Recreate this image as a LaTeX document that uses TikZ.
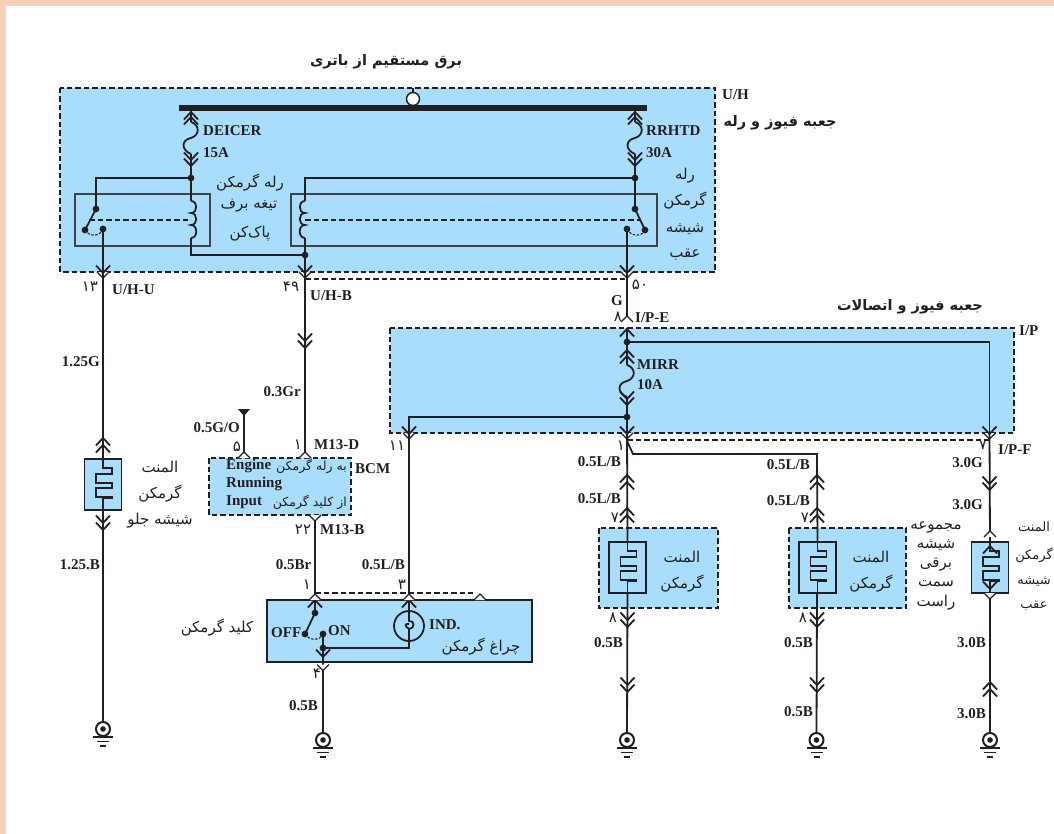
\documentclass[tikz,border=0pt]{standalone}
\usepackage{fontspec}
\setmainfont{Liberation Serif}
\newfontfamily\farsifont[Script=Arabic]{DejaVu Sans}
\TeXXeTstate=1
\newcommand\fa[1]{\farsifont\beginR #1\endR}
\newcommand\nm[1]{\farsifont #1}
\definecolor{ink}{HTML}{231F20}
\definecolor{panel}{HTML}{A8DEFB}
\definecolor{peach}{HTML}{F8D0B5}
\tikzset{
  wire/.style={draw=ink,line width=1.8pt,line join=miter},
  dashln/.style={draw=ink,line width=1.5pt,dash pattern=on 5.5pt off 3pt},
  lab/.style={inner sep=0pt,text=ink,font=\fontsize{15}{17}\selectfont\bfseries},
  far/.style={inner sep=0pt,text=ink,font=\fontsize{15}{17}\selectfont,align=center},
  fars/.style={inner sep=0pt,text=ink,font=\fontsize{13}{15}\selectfont,align=center},
  farh/.style={inner sep=0pt,text=ink,font=\fontsize{14.5}{17}\selectfont\bfseries,align=center},
  num/.style={inner sep=0pt,text=ink,font=\fontsize{15}{16}\selectfont},
  chevD/.pic={\draw[wire] (-7,-7.5)--(0,0)--(7,-7.5);},
  chevU/.pic={\draw[wire] (-7,7.5)--(0,0)--(7,7.5);},
  portD/.pic={\filldraw[wire,fill=white,line width=1.3pt] (-6,0)--(0,6)--(6,0);},
  portU/.pic={\filldraw[wire,fill=white,line width=1.3pt] (-6,0)--(0,-6)--(6,0);},
  fuse/.pic={
    \draw[wire] (0,0) .. controls (9,3) and (9,13) .. (0,16)
      .. controls (-10,18) and (-10,28) .. (0,32);},
  coilR/.pic={
    \draw[wire] (0,0) .. controls (7,0) and (7,12) .. (0,12)
      .. controls (7,12) and (7,24) .. (0,24) .. controls (7,24) and (7,37) .. (0,37);},
  coilL/.pic={
    \draw[wire] (0,0) .. controls (-7,0) and (-7,12) .. (0,12)
      .. controls (-7,12) and (-7,24) .. (0,24) .. controls (-7,24) and (-7,37) .. (0,37);},
  heater/.pic={
    \draw[ink,line width=1.9pt,fill=panel] (-18.5,0) rectangle (18.5,51);
    \draw[wire] (0,-1)--(0,9)--(9,9)--(9,15)--(-7,15)--(-7,24)--(9,24)--(9,29)--(-7,29)--(-7,38)--(9,38)--(9,39)--(0,39)--(0,52);},
  ground/.pic={
    \draw[ink,line width=2pt,fill=white] (0,-11) circle[radius=7];
    \fill[ink] (0,-11) circle[radius=2.8];
    \draw[ink,line width=1.8pt] (-10,-3)--(10,-3);
    \draw[ink,line width=1.8pt] (-6,1.5)--(6,1.5);
    \draw[ink,line width=1.8pt] (-3,6)--(3,6);},
}
\newcommand\jdot[1]{\fill[ink] (#1) circle[radius=3.4];}
\begin{document}
\begin{tikzpicture}[x=1pt,y=-1pt]
\useasboundingbox (0,0) rectangle (1054,834);
\fill[peach] (0,0) rectangle (1054,6);
\fill[peach] (0,0) rectangle (6,834);

% ---- coordinates
\coordinate (busL) at (179,108); \coordinate (busR) at (647,108);
\coordinate (busC) at (413,99);  \coordinate (uhTopC) at (413,88);
\coordinate (fLt) at (191,111);  \coordinate (fLa) at (191,122); \coordinate (fLb) at (191,154);
\coordinate (jL) at (191,178);   \coordinate (cLa) at (191,201); \coordinate (cLb) at (191,238);
\coordinate (jB) at (305,255);   \coordinate (cB) at (191,255);
\coordinate (swLin) at (96,178); \coordinate (swLa) at (96,209); \coordinate (swLb) at (85,230); \coordinate (swLc) at (103,229);
\coordinate (pA) at (103,273);   \coordinate (pB) at (305,273);  \coordinate (pC) at (627,273);
\coordinate (fRt) at (635,111);  \coordinate (fRa) at (635,122); \coordinate (fRb) at (635,154);
\coordinate (jR) at (635,178);   \coordinate (jRl) at (305,178);
\coordinate (cRa) at (305,201);  \coordinate (cRb) at (305,238);
\coordinate (swRa) at (635,209); \coordinate (swRb) at (645,230); \coordinate (swRc) at (627,229);
\coordinate (dLa) at (89,220);   \coordinate (dLb) at (191,220);
\coordinate (dRa) at (305,220);  \coordinate (dRb) at (640,220);
\coordinate (gA) at (103,740);   \coordinate (gB) at (323,751);  \coordinate (gC) at (627,751);
\coordinate (gD) at (816.5,751); \coordinate (gE) at (990,751);
\coordinate (hA) at (103,459);   \coordinate (hC) at (627.5,542); \coordinate (hD) at (817.5,542); \coordinate (hE) at (990,542);
\coordinate (bcmT) at (305,458); \coordinate (bcmG) at (244,458); \coordinate (bcmB) at (315,515);
\coordinate (gTop) at (244,412);
\coordinate (swT) at (315,600);  \coordinate (swA) at (315,613); \coordinate (swB) at (305,634); \coordinate (swC) at (323,634);
\coordinate (swJ) at (323,648);  \coordinate (lampB) at (409,648); \coordinate (lampT) at (409,600);
\coordinate (ipT) at (627,322);  \coordinate (ipJ1) at (627,342); \coordinate (ipJ2) at (627,417);
\coordinate (ipCr) at (989.5,342); \coordinate (ipRb) at (989.5,434);
\coordinate (ipLt) at (409,417); \coordinate (ipLb) at (409,434); \coordinate (ipMb) at (627,434);
\coordinate (fIa) at (627,365);  \coordinate (fIb) at (627,397);
\coordinate (brA) at (627,441);  \coordinate (brB) at (633,454); \coordinate (brC) at (817,454);

% ---- panels
\filldraw[fill=panel,dashln] (60,88) rectangle (715,272);
\filldraw[fill=panel,dashln] (390,328) rectangle (1014,433);
\filldraw[fill=panel,dashln] (209,458) rectangle (351,515);
\filldraw[fill=panel,dashln] (599,528) rectangle (718,608);
\filldraw[fill=panel,dashln] (789,528) rectangle (906,608);
\draw[ink,line width=2pt,fill=panel] (267,600) rectangle (532,662);

% ---- relay boxes
\draw[ink!85,line width=1.5pt] (75,194) rectangle (210,246);
\draw[ink!85,line width=1.5pt] (291,194) rectangle (657,246);

% ---- bus
\draw[ink,line width=6pt] (busL)--(busR);
\draw[wire] (uhTopC)--(busC);
\draw[ink,line width=1.5pt,fill=white] (busC) circle[radius=6.5];

% ---- left relay
\draw[wire] (fLt)--(fLa); \pic at (fLa) {fuse}; \draw[wire] (fLb)--(jL);
\pic at (191,112) {chevU}; \pic at (191,117) {chevU};
\pic at (191,160) {chevD}; \pic at (191,166) {chevD};
\draw[wire] (jL)--(cLa); \pic at (cLa) {coilR}; \draw[wire] (cLb)--(cB)--(jB);
\draw[wire] (jL)--(swLin)--(swLa)--(swLb);
\draw[wire] (swLc)--(pA);
\draw[dashln,line width=1.1pt,dash pattern=on 2.5pt off 1.5pt] (swLb) .. controls (89,237) and (100,237) .. (swLc);
\draw[dashln] (dLa)--(dLb);
\jdot{jL}\jdot{swLa}\jdot{swLb}\jdot{swLc}\jdot{jB}

% ---- right relay
\draw[wire] (fRt)--(fRa); \pic at (fRa) {fuse}; \draw[wire] (fRb)--(jR);
\pic at (635,112) {chevU}; \pic at (635,117) {chevU};
\pic at (635,160) {chevD}; \pic at (635,166) {chevD};
\draw[wire] (jR)--(swRa)--(swRb);
\draw[wire] (jR)--(jRl)--(cRa); \pic at (cRa) {coilL}; \draw[wire] (cRb)--(jB);
\draw[wire] (swRc)--(pC);
\draw[dashln,line width=1.1pt,dash pattern=on 2.5pt off 1.5pt] (swRc) .. controls (631,237) and (642,237) .. (swRb);
\draw[dashln] (dRa)--(dRb);
\jdot{jR}\jdot{swRa}\jdot{swRb}\jdot{swRc}

% ---- ports below U/H
\draw[wire] (jB)--(pB);
\pic at (103,272) {portD}; \pic at (305,272) {portD}; \pic at (627,272) {portD};
\pic at (pA) {chevD}; \pic at (pB) {chevD}; \pic at (pC) {chevD};
\draw[dashln] (pB |- 0,279)--(pC |- 0,279);

% ---- front element column
\draw[wire] (pA)--(hA); \draw[wire] (103,510)--(gA |- 0,722);
\pic at (103,438) {chevU}; \pic at (103,445) {chevU};
\pic at (hA) {heater};
\pic at (103,523) {chevD}; \pic at (103,530) {chevD};
\pic at (gA) {ground};

% ---- 49 wire to BCM
\draw[wire] (pB)--(bcmT);
\pic at (305,341) {chevD}; \pic at (305,348) {chevD};
\pic at (bcmT) {portU};
\draw[wire] (gTop)--(bcmG); \pic at (bcmG) {portU};
\fill[ink] (238,409)--(250,409)--(244,416)--cycle;

% ---- BCM to switch
\draw[wire] (bcmB)--(swT);
\pic at (bcmB) {portD};
\pic at (315,600) {chevU};
\pic at (swT) {portU};
\draw[dashln] (315,593)--(473,593);
\pic at (480,600) {portU};

% ---- switch
\draw[wire] (swT)--(swA)--(swB);
\draw[dashln,line width=1.1pt,dash pattern=on 2.5pt off 1.5pt] (swB) .. controls (309,641) and (320,641) .. (swC);
\draw[wire] (swC)--(swJ)--(gB |- 0,733);
\draw[wire] (swJ)--(lampB)--(lampT);
\draw[wire,fill=panel] (409,626) circle[radius=15];
\draw[wire] (409,611)--(409,621) .. controls (415,620) and (415,629) .. (409,629) .. controls (404,626) and (405,623) .. (409,624);
\draw[wire] (409,629)--(409,648);
\jdot{swA}\jdot{swB}\jdot{swC}\jdot{swJ}
\pic at (323,657) {chevD}; \pic at (323,664.5) {portD};
\pic at (gB) {ground};

% ---- I/P column
\draw[wire] (pC)--(ipT);
\pic at (ipT) {portU}; \pic at (627,329) {chevU};
\draw[wire] (627,328)--(ipJ1)--(fIa); \pic at (fIa) {fuse}; \draw[wire] (fIb)--(ipJ2)--(ipMb);
\pic at (627,350) {chevU}; \pic at (627,356) {chevU};
\pic at (627,399) {chevD}; \pic at (627,405) {chevD};
\draw[wire] (ipJ1)--(ipCr)--(ipRb);
\draw[wire] (ipJ2)--(ipLt)--(ipLb);
\jdot{ipJ1}\jdot{ipJ2}
\pic at (409,433) {portD}; \pic at (627,433) {portD}; \pic at (989.5,433) {portD};
\pic at (ipLb) {chevD}; \pic at (ipMb) {chevD}; \pic at (ipRb) {chevD};
\draw[dashln] (627,440)--(989.5,440);
\draw[wire] (ipLb)--(lampT);
\pic at (409,600) {chevU}; \pic at (lampT) {portU};

% ---- 0.5L/B branches
\draw[wire] (ipMb)--(hC);
\draw[wire] (brA)--(brB)--(brC)--(hD);
\pic at (627,475) {chevU}; \pic at (627,482) {chevU};
\pic at (627,508) {chevU}; \pic at (627,515) {chevU};
\pic at (hC) {heater};
\draw[wire] (627.5,593)--(gC |- 0,733);
\pic at (627.5,620) {chevD}; \pic at (627.5,627) {chevD};
\pic at (627.5,685) {chevD}; \pic at (627.5,692) {chevD};
\pic at (gC) {ground};

\pic at (817,475) {chevU}; \pic at (817,482) {chevU};
\pic at (817,508) {chevU}; \pic at (817,515) {chevU};
\pic at (hD) {heater};
\draw[wire] (817,593)--(gD |- 0,733);
\pic at (817,620) {chevD}; \pic at (817,627) {chevD};
\pic at (817,685) {chevD}; \pic at (817,692) {chevD};
\pic at (gD) {ground};

% ---- rear element column
\draw[wire] (ipRb)--(hE);
\pic at (989.5,484) {chevD}; \pic at (989.5,490) {chevD};
\pic at (990,537) {portU};
\pic at (hE) {heater};
\pic at (990,546) {chevU};
\pic at (990,589) {chevD}; \pic at (990,593) {portD};
\draw[wire] (990,599)--(gE |- 0,733);
\pic at (990,682) {chevU}; \pic at (990,689) {chevU};
\pic at (gE) {ground};

% ---- Latin labels
\node[lab,anchor=west] (tDeicer) at (203,131) {DEICER};
\node[lab,anchor=west] (t15a) at (203,153) {15A};
\node[lab,anchor=west] (tRrhtd) at (646,131) {RRHTD};
\node[lab,anchor=west] (t30a) at (646,153) {30A};
\node[lab,anchor=west] (tUH) at (722,95) {U/H};
\node[lab,anchor=west] (tUHU) at (112,290) {U/H-U};
\node[lab,anchor=west] (tUHB) at (310,296) {U/H-B};
\node[lab,anchor=east] (tG) at (623,301) {G};
\node[lab,anchor=west] (tIPE) at (635,318) {I/P-E};
\node[lab,anchor=west] (tIP) at (1019,331) {I/P};
\node[lab,anchor=west] (tMirr) at (637,365) {MIRR};
\node[lab,anchor=west] (t10a) at (637,385) {10A};
\node[lab,anchor=east] (t125g) at (100,362) {1.25G};
\node[lab,anchor=east] (t125b) at (100,565) {1.25.B};
\node[lab,anchor=east] (t03gr) at (301,392) {0.3Gr};
\node[lab,anchor=east] (t05go) at (240,428) {0.5G/O};
\node[lab,anchor=west] (tM13D) at (314,445) {M13-D};
\node[lab,anchor=west] (tM13B) at (320,530) {M13-B};
\node[lab,anchor=west] (tBCM) at (355,469) {BCM};
\node[lab,anchor=west] (tEng) at (226,466) {Engine};
\node[lab,anchor=west] (tRun) at (226,484) {Running};
\node[lab,anchor=west] (tInp) at (226,502) {Input};
\node[lab,anchor=east] (t05br) at (311.5,565) {0.5Br};
\node[lab,anchor=east] (t05lb) at (405,565) {0.5L/B};
\node[lab,anchor=west] (tOff) at (271,633) {OFF};
\node[lab,anchor=west] (tOn) at (328,631) {ON};
\node[lab,anchor=west] (tInd) at (429,625) {IND.};
\node[lab,anchor=east] (t05b0) at (318,706) {0.5B};
\node[lab,anchor=east] (tb1) at (621,462) {0.5L/B};
\node[lab,anchor=east] (tb2) at (621,499) {0.5L/B};
\node[lab,anchor=east] (tb3) at (810,465) {0.5L/B};
\node[lab,anchor=east] (tb4) at (810,501) {0.5L/B};
\node[lab,anchor=east] (tb5) at (623,643) {0.5B};
\node[lab,anchor=east] (tb6) at (813,643) {0.5B};
\node[lab,anchor=east] (tb7) at (813,712) {0.5B};
\node[lab,anchor=east] (tg1) at (983,463) {3.0G};
\node[lab,anchor=east] (tg2) at (983,505) {3.0G};
\node[lab,anchor=west] (tIPF) at (998,450) {I/P-F};
\node[lab,anchor=east] (tg3) at (986,643) {3.0B};
\node[lab,anchor=east] (tg4) at (986,714) {3.0B};

% ---- Persian digits
\node[num] (n13) at (90,287) {\nm{۱۳}};
\node[num] (n49) at (291,287) {\nm{۴۹}};
\node[num] (n50) at (640,285) {\nm{۵۰}};
\node[num] (n8a) at (618,317) {\nm{۸}};
\node[num] (n5) at (237,447) {\nm{۵}};
\node[num] (n1a) at (298,445) {\nm{۱}};
\node[num] (n11) at (397,446) {\nm{۱۱}};
\node[num] (n1b) at (621,446) {\nm{۱}};
\node[num] (n7a) at (983,445) {\nm{۷}};
\node[num] (n22) at (303,530) {\nm{۲۲}};
\node[num] (n1c) at (307,585) {\nm{۱}};
\node[num] (n3) at (402,585) {\nm{۳}};
\node[num] (n4) at (317,674) {\nm{۴}};
\node[num] (n7b) at (615,518) {\nm{۷}};
\node[num] (n7c) at (805,518) {\nm{۷}};
\node[num] (n8b) at (613,618) {\nm{۸}};
\node[num] (n8c) at (803,618) {\nm{۸}};

% ---- Persian labels
\node[farh] (fTop) at (386,62) {\fa{برق مستقیم از باتری}};
\node[farh] (fBox) at (780,123) {\fa{جعبه فیوز و رله}};
\node[farh] (fIP) at (910,307) {\fa{جعبه فیوز و اتصالات}};
\node[far] (fRl1) at (250,183) {\fa{رله گرمکن}};
\node[far] (fRl2) at (249,206) {\fa{تیغه برف}};
\node[far] (fRl3) at (250,234) {\fa{پاک‌کن}};
\node[far] (fRr1) at (685,176) {\fa{رله}};
\node[far] (fRr2) at (685,201) {\fa{گرمکن}};
\node[far] (fRr3) at (685,229) {\fa{شیشه}};
\node[far] (fRr4) at (685,255) {\fa{عقب}};
\node[far] (fE1) at (160,467) {\fa{المنت}};
\node[far] (fE2) at (160,494) {\fa{گرمکن}};
\node[far] (fE3) at (160,521) {\fa{شیشه جلو}};
\node[far,anchor=east,font=\fontsize{12.5}{14}\selectfont] (fB1) at (347,466) {\fa{به رله گرمکن}};
\node[far,anchor=east,font=\fontsize{12.5}{14}\selectfont] (fB2) at (347,502) {\fa{از کلید گرمکن}};
\node[far] (fKey) at (217,628) {\fa{کلید گرمکن}};
\node[far] (fLamp) at (481,647) {\fa{چراغ گرمکن}};
\node[far] (fH1) at (682,557) {\fa{المنت}};
\node[far] (fH2) at (682,584) {\fa{گرمکن}};
\node[far] (fH3) at (871,557) {\fa{المنت}};
\node[far] (fH4) at (871,584) {\fa{گرمکن}};
\node[far] (fA1) at (936,527) {\fa{مجموعه}};
\node[far] (fA2) at (936,545) {\fa{شیشه}};
\node[far] (fA3) at (936,565) {\fa{برقی}};
\node[far] (fA4) at (936,584) {\fa{سمت}};
\node[far] (fA5) at (936,603) {\fa{راست}};
\node[fars] (fT1) at (1034,527) {\fa{المنت}};
\node[fars] (fT2) at (1034,555) {\fa{گرمکن}};
\node[fars] (fT3) at (1034,582) {\fa{شیشه}};
\node[fars] (fT4) at (1034,606) {\fa{عقب}};
\end{tikzpicture}
\end{document}
